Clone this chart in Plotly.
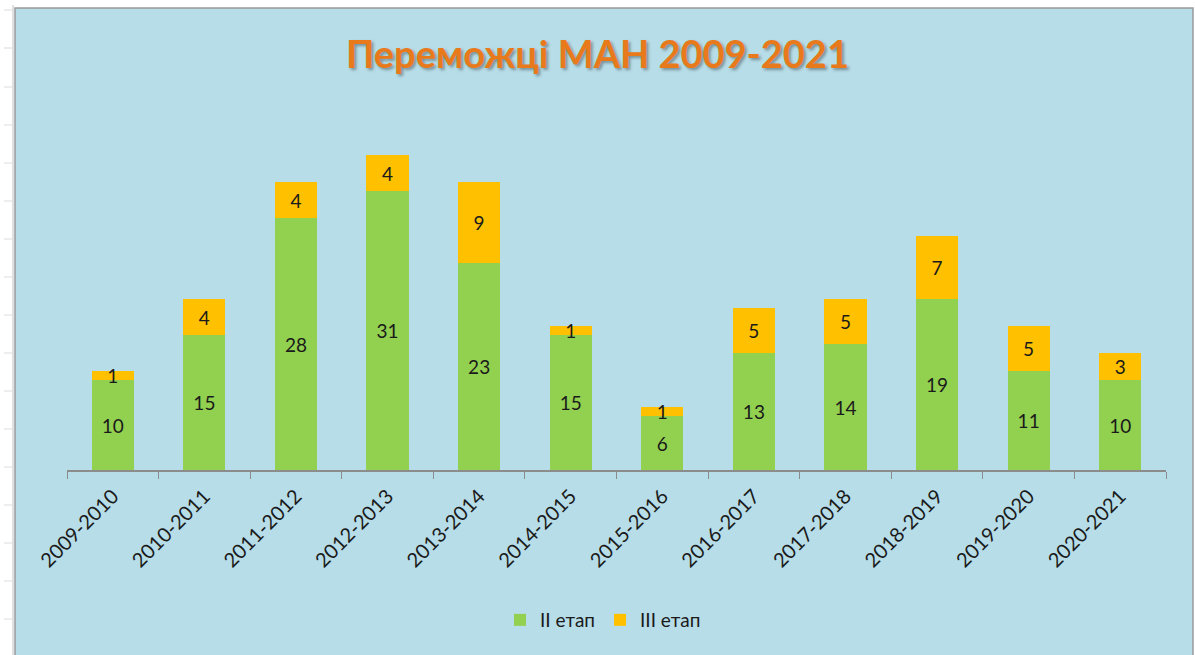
import plotly.graph_objects as go

years = ["2009-2010", "2010-2011", "2011-2012", "2012-2013", "2013-2014", "2014-2015",
         "2015-2016", "2016-2017", "2017-2018", "2018-2019", "2019-2020", "2020-2021"]
stage2 = [10, 15, 28, 31, 23, 15, 6, 13, 14, 19, 11, 10]
stage3 = [1, 4, 4, 4, 9, 1, 1, 5, 5, 7, 5, 3]

W, H = 1195, 655
L, R, T, B = 67, 29, 110, 185
pw = W - L - R
ph = H - T - B

def px(x):
    return (x - L) / pw

def py(y):
    return (H - B - y) / ph

FONT = "Lato, 'Open Sans', sans-serif"
BLUE = "#B7DDE8"

fig = go.Figure()
fig.add_trace(go.Bar(x=years, y=stage2, name="II етап", marker_color="#92D050",
                     marker_line_width=0,
                     text=stage2, textposition="inside", insidetextanchor="middle",
                     constraintext="none", textangle=0,
                     textfont=dict(size=19, color="#1a1a1a", family=FONT)))
fig.add_trace(go.Bar(x=years, y=stage3, name="III етап", marker_color="#FFC000",
                     marker_line_width=0,
                     text=stage3, textposition="inside", insidetextanchor="middle",
                     constraintext="none", textangle=0,
                     textfont=dict(size=19, color="#1a1a1a", family=FONT)))

shapes = [
    dict(type="rect", xref="paper", yref="paper", x0=px(15), x1=px(1193), y0=py(665), y1=py(8),
         fillcolor=BLUE, line=dict(color="#9a9a9a", width=1.5), layer="below"),
    dict(type="line", xref="paper", yref="paper", x0=px(13), x1=px(13), y0=py(660), y1=py(5),
         line=dict(color="#e0e0e0", width=2), layer="below"),
]
for yy in [10, 48, 87, 125, 163, 201, 239, 277, 315, 353, 391, 429, 467, 505, 543, 581, 619]:
    shapes.append(dict(type="line", xref="paper", yref="paper", x0=px(4), x1=px(13),
                       y0=py(yy), y1=py(yy), line=dict(color="#dcdcdc", width=1), layer="below"))

fig.update_layout(
    width=W, height=H,
    margin=dict(l=L, r=R, t=T, b=B),
    barmode="stack", bargap=0.54,
    paper_bgcolor="white", plot_bgcolor="rgba(0,0,0,0)",
    shapes=shapes,
    title=dict(text="<b>Переможці МАН 2009-2021</b>", x=0.5, xanchor="center",
               y=1 - 55 / H, yanchor="middle",
               font=dict(size=38, color="#E87A1C", family=FONT,
                         shadow="2px 2px 3px rgba(0,0,0,0.35)")),
    legend=dict(orientation="h", x=px(603), xanchor="center", y=py(620), yanchor="middle",
                font=dict(size=19, color="#1a1a1a", family=FONT), bgcolor="rgba(0,0,0,0)",
                itemwidth=30, traceorder="normal"),
    uniformtext=dict(minsize=19, mode="show"),
    xaxis=dict(type="category", tickangle=-45, tickson="boundaries", ticks="outside",
               ticklen=7, tickcolor="#8c8c8c", showline=True, linecolor="#8c8c8c", linewidth=1.5,
               ticklabelstandoff=5,
               tickfont=dict(size=20, color="#1a1a1a", family=FONT), showgrid=False),
    yaxis=dict(range=[0, 40], visible=False, showgrid=False),
)

fig.write_html("out.html", config={"displayModeBar": False},
               post_script="document.body.style.margin='0';")
